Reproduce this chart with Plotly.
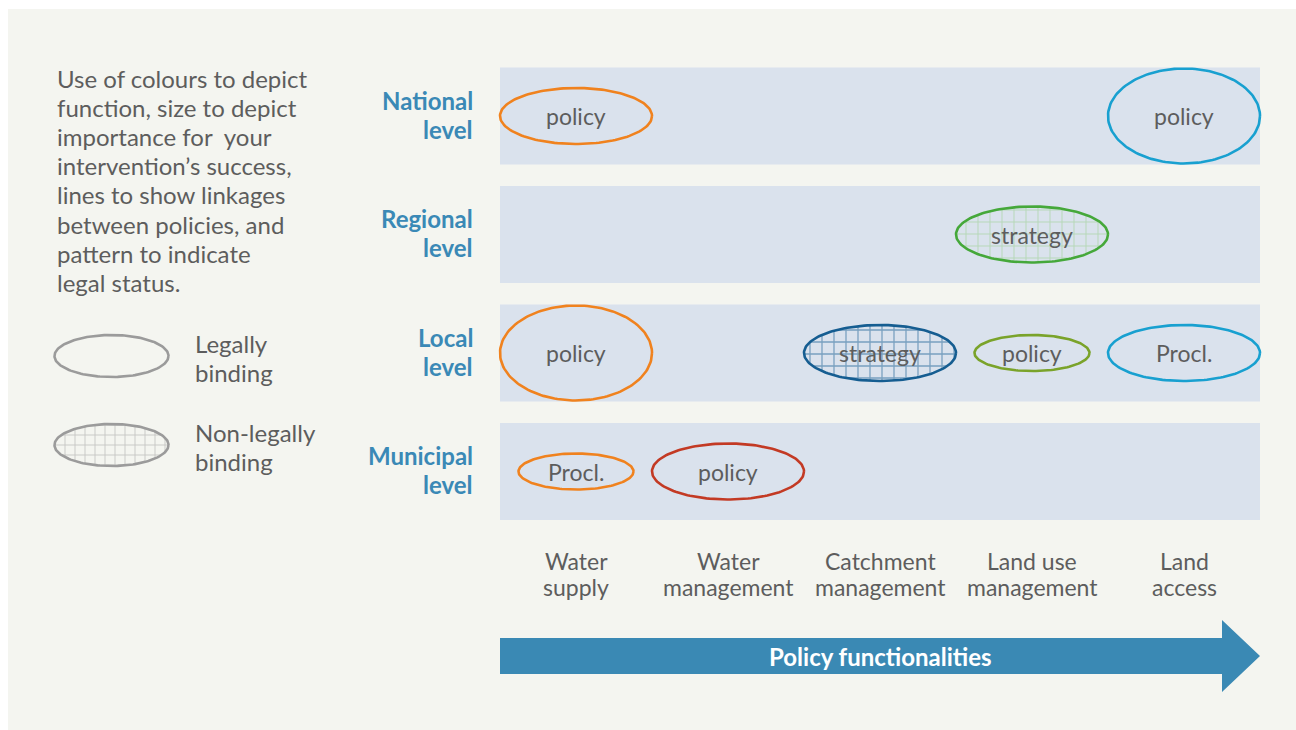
import numpy as np
import plotly.graph_objects as go

# ---------------- data ----------------
levels = ["National", "Regional", "Local", "Municipal"]
level_labels = [["National", "level"], ["Regional", "level"], ["Local", "level"], ["Municipal", "level"]]
functions = ["Water supply", "Water management", "Catchment management",
             "Land use management", "Land access"]
function_labels = [["Water", "supply"], ["Water", "management"], ["Catchment", "management"],
                   ["Land use", "management"], ["Land", "access"]]

policy_level = ["National", "National", "Regional", "Local", "Local", "Local", "Local",
                "Municipal", "Municipal"]
policy_function = ["Water supply", "Land access", "Land use management", "Water supply",
                   "Catchment management", "Land use management", "Land access",
                   "Water supply", "Water management"]
policy_label = ["policy", "policy", "strategy", "policy", "strategy", "policy", "Procl.",
                "Procl.", "policy"]
policy_importance = [2, 3, 2, 3, 2, 1, 2, 1, 2]
policy_legal = [True, True, False, True, False, True, True, True, True]

description = ["Use of colours to depict", "function, size to depict",
               "importance for  your", "intervention\u2019s success,",
               "lines to show linkages", "between policies, and",
               "pattern to indicate", "legal status."]
legend_items = [["Legally", "binding"], ["Non-legally", "binding"]]
legend_legal = [True, False]
arrow_title = "Policy functionalities"

# ---------------- styles ----------------
policy_color = ["#f0821e", "#18a0d0", "#45a83a", "#f0821e", "#155d91", "#7aa32a",
                "#18a0d0", "#f0821e", "#c33a24"]
hatch_style = {"#45a83a": ("#8fcc80", 0.15), "#155d91": ("#155d91", 0.2),
               "#9b9b9b": ("#8f8f8f", 0.16)}
W, H = 1296, 730
X0, DX = 576, 152.0   # pixel centre of first column, pixel per column
Y0, DY = 116, 118.5   # pixel centre of first row, pixel per row
size_map = {3: (76 / DX, 47.5 / DY), 2: (76 / DX, 28 / DY), 1: (57.5 / DX, 18 / DY)}
TEXT = "#5d5d5d"
BLUE_TXT = "#3a89b6"
FONT = "Lato"


def px2x(px):
    return (px - X0) / DX


def px2y(py):
    return (py - Y0) / DY


def ellipse(cx, cy, rx, ry, n=160):
    t = np.linspace(0, 2 * np.pi, n)
    return cx + rx * np.cos(t), cy + ry * np.sin(t)


def hatch(col, size):
    fg, sol = hatch_style[col]
    return dict(fill="toself", fillcolor="rgba(0,0,0,0)",
                fillpattern=dict(shape="+", fgcolor=fg, bgcolor="rgba(0,0,0,0)",
                                 size=size, solidity=sol))


fig = go.Figure()

# ---------------- policy ellipses ----------------
for lv, fn, lab, imp, legal, col in zip(policy_level, policy_function, policy_label,
                                        policy_importance, policy_legal, policy_color):
    cx = functions.index(fn)
    cy = levels.index(lv)
    rx, ry = size_map[imp]
    xs, ys = ellipse(cx, cy, rx, ry)
    kw = {} if legal else hatch(col, 12)
    fig.add_trace(go.Scatter(x=xs, y=ys, mode="lines", line=dict(color=col, width=2.6),
                             hoverinfo="skip", showlegend=False, **kw))
    fig.add_annotation(x=cx, y=cy, text=lab, showarrow=False,
                       font=dict(family=FONT, size=23, color=TEXT))

# ---------------- legend ellipses ----------------
leg_cy_px = [356, 445]
for legal, cyp, lines in zip(legend_legal, leg_cy_px, legend_items):
    xs, ys = ellipse(px2x(111.5), px2y(cyp), 57 / DX, 21 / DY)
    kw = {} if legal else hatch("#9b9b9b", 10)
    fig.add_trace(go.Scatter(x=xs, y=ys, mode="lines", line=dict(color="#9b9b9b", width=2.6),
                             hoverinfo="skip", showlegend=False, **kw))
    for k, ln in enumerate(lines):
        fig.add_annotation(x=px2x(193), y=px2y(cyp - 13 + 29 * k), text=ln, showarrow=False,
                           xanchor="left", font=dict(family=FONT, size=24, color=TEXT))

# background panel
fig.add_shape(type="rect", xref="paper", yref="paper", x0=8 / W, x1=1, y0=0, y1=1 - 9 / H,
              fillcolor="#f4f5f0", line_width=0, layer="below")

# ---------------- bands ----------------
half = 48.5 / DY
for j in range(len(levels)):
    fig.add_shape(type="rect", xref="x", yref="y", x0=-0.5, x1=len(functions) - 0.5,
                  y0=j - half, y1=j + half, fillcolor="#dae2ed", line_width=0, layer="below")
    for k, ln in enumerate(level_labels[j]):
        fig.add_annotation(x=px2x(475), y=j + (-16 + 29 * k) / DY, text="<b>%s</b>" % ln,
                           showarrow=False, xanchor="right",
                           font=dict(family=FONT, size=24, color=BLUE_TXT))

# ---------------- column labels ----------------
for i, lines in enumerate(function_labels):
    for k, ln in enumerate(lines):
        fig.add_annotation(x=i, y=px2y(561 + 26 * k), text=ln, showarrow=False,
                           font=dict(family=FONT, size=23, color=TEXT))

# ---------------- description ----------------
for k, ln in enumerate(description):
    fig.add_annotation(x=px2x(55), y=px2y(78 + 29.2 * k), text=ln, showarrow=False,
                       xanchor="left", font=dict(family=FONT, size=24, color=TEXT))

# ---------------- arrow ----------------
xl, xb, xt = -0.5, px2x(1222), len(functions) - 0.5
yb0, yb1 = px2y(638), px2y(674)
yh0, yh1 = px2y(620), px2y(692)
ym = (yb0 + yb1) / 2
path = (f"M {xl},{yb0} L {xb},{yb0} L {xb},{yh0} L {xt},{ym} L {xb},{yh1} "
        f"L {xb},{yb1} L {xl},{yb1} Z")
fig.add_shape(type="path", xref="x", yref="y", path=path, fillcolor="#3a89b4",
              line_width=0, layer="below")
fig.add_annotation(x=(len(functions) - 1) / 2, y=ym, text="<b>%s</b>" % arrow_title,
                   showarrow=False, font=dict(family=FONT, size=24, color="white"))

fig.update_xaxes(range=[px2x(0), px2x(W)], visible=False, fixedrange=True)
fig.update_yaxes(range=[px2y(H), px2y(0)], visible=False, fixedrange=True)
fig.update_layout(width=W, height=H, margin=dict(l=0, r=0, t=0, b=0),
                  paper_bgcolor="white", plot_bgcolor="rgba(0,0,0,0)", showlegend=False)

fig.write_html("out.html", config={"displayModeBar": False},
               post_script="document.body.style.margin='0';document.body.style.overflow='hidden';")
